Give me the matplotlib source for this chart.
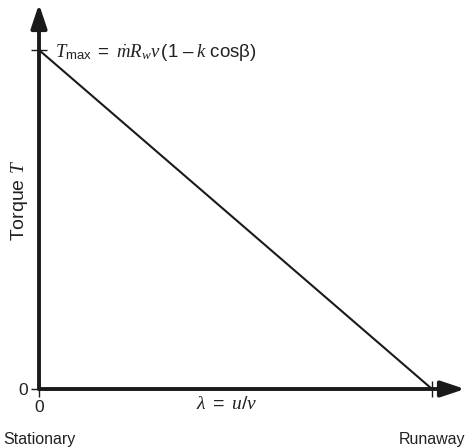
import matplotlib
matplotlib.use("Agg")
import matplotlib.pyplot as plt

plt.rcParams['font.family'] = ['Liberation Sans', 'DejaVu Sans']
plt.rcParams['mathtext.fontset'] = 'custom'
plt.rcParams['mathtext.rm'] = 'Liberation Sans'
plt.rcParams['mathtext.sf'] = 'Liberation Sans'
plt.rcParams['mathtext.it'] = 'Liberation Serif:italic'

# torque falls linearly from Tmax (stationary) to 0 (runaway)
lam = [0.0, 1.0]
torque = [1.0, 0.0]
x_ticks = [0.0, 1.0]
x_ticklabels = ['0', '']
y_ticks = [0.0, 1.0]
y_ticklabels = ['0', '']
end_labels = ['Stationary', 'Runaway']

fig = plt.figure(figsize=(4.65, 4.48), dpi=100)
ax = fig.add_axes([39 / 465, 59 / 448, 426 / 465, 389 / 448])
ax.set_xlim(0, 426 / 393)
ax.set_ylim(0, 389 / 339)

for s in ax.spines.values():
    s.set_visible(False)

ink = '#1a1a1a'
txt = '#222222'
# axes with arrow heads
arrow = dict(arrowstyle='-|>,head_length=0.9,head_width=0.3', lw=2.8, color=ink,
             mutation_scale=16, shrinkA=0, shrinkB=0)
ax.annotate('', xy=(426 / 393, 0), xytext=(0, 0), arrowprops=arrow,
            annotation_clip=False)
ax.annotate('', xy=(0, 385 / 339), xytext=(0, 0), arrowprops=arrow,
            annotation_clip=False)

ax.plot(lam, torque, color=ink, lw=1.5, clip_on=False)

ax.set_xticks(x_ticks)
ax.set_xticklabels(x_ticklabels)
ax.set_yticks(y_ticks)
ax.set_yticklabels(y_ticklabels)
ax.tick_params(direction='inout', length=12, width=1, color=ink,
               labelsize=12.5, labelcolor=txt, pad=2)

ax.set_ylabel(r'Torque $T$', fontsize=14, color=txt)
ax.yaxis.set_label_coords(-9 / 426, 189 / 389)

ax.text(0.478, -0.047, r'$\mathit{\lambda}\ \mathrm{=}\ u/v$', fontsize=14,
        ha='center', va='center', color=txt, clip_on=False)

for xv, lab in zip(x_ticks, end_labels):
    ax.text(xv, -0.150, lab, fontsize=11.5, ha='center', va='center',
            color=txt, clip_on=False)

ax.text(0.041, 0.994,
        r'$T_{\mathrm{max}}\ \mathrm{=}\ \dot{m}R_w v\,\mathrm{(1\ –\ }k\ \mathrm{cos\beta)}$',
        fontsize=13.5, ha='left', va='center', color=txt)

fig.savefig('out.png', dpi=100)
